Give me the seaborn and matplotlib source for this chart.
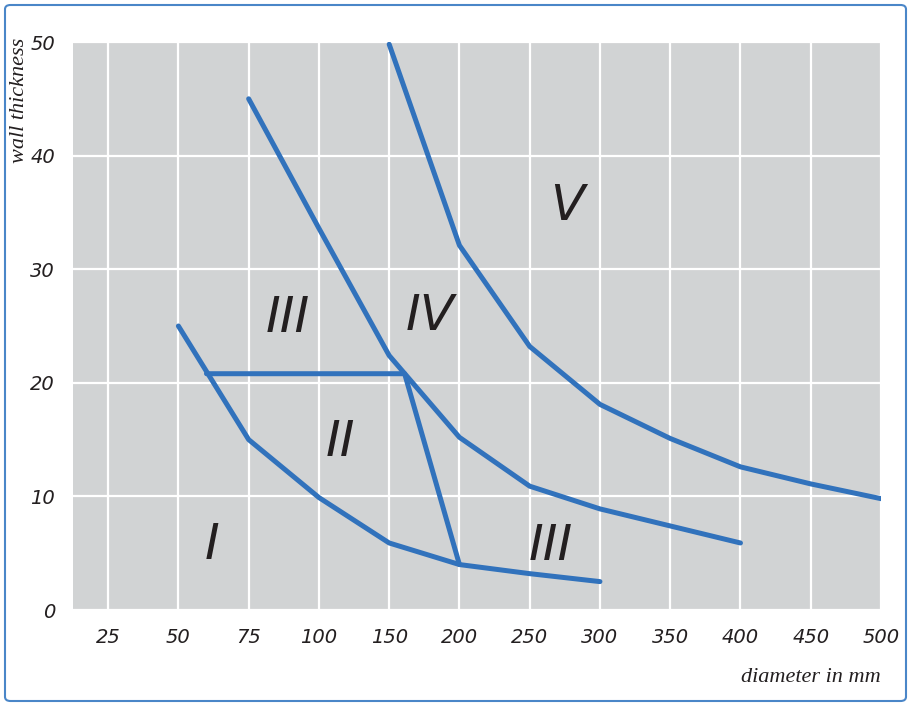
import numpy as np
import pandas as pd
import matplotlib.pyplot as plt
from matplotlib.patches import FancyBboxPatch
import seaborn as sns

# tick categories on the x axis (equally spaced, not linear)
diameters = [25, 50, 75, 100, 150, 200, 250, 300, 350, 400, 450, 500]
thickness_ticks = [0, 10, 20, 30, 40, 50]

# boundary curves (diameter in mm, wall thickness)
b1_d = [50, 75, 100, 150, 200, 250, 300]
b1_t = [25, 15, 9.9, 5.9, 4.0, 3.2, 2.5]

b2_d = [60, 161, 200]
b2_t = [20.8, 20.8, 4.0]

b3_d = [75, 100, 150, 200, 250, 300, 350, 400]
b3_t = [45, 33.6, 22.4, 15.2, 10.9, 8.9, 7.4, 5.9]

b4_d = [150, 200, 250, 300, 350, 400, 450, 500]
b4_t = [49.8, 32.1, 23.2, 18.1, 15.1, 12.6, 11.1, 9.8]

# region labels
region_names = ['I', 'II', 'III', 'IV', 'V', 'III']
region_d = [62, 115, 89, 179, 277, 265]
region_t = [5.7, 14.8, 25.7, 25.9, 35.6, 5.6]

BLUE = '#3172bc'
GREY_BG = '#d1d3d4'
INK = '#231f20'

sns.set_style('white', {'axes.facecolor': GREY_BG})
plt.rcParams['font.family'] = ['DejaVu Sans']


def pos(d):
    # map diameter to the equally spaced tick positions
    return np.interp(d, diameters, np.arange(len(diameters)))


fig = plt.figure(figsize=(9.11, 7.06), dpi=100)
ax = fig.add_axes([73 / 911, 1 - 610 / 706, (881 - 73) / 911, (610 - 42) / 706])

curves = [(b1_d, b1_t), (b2_d, b2_t), (b3_d, b3_t), (b4_d, b4_t)]
for d, t in curves:
    df = pd.DataFrame({'x': pos(d), 'y': t})
    sns.lineplot(data=df, x='x', y='y', sort=False, estimator=None,
                 color=BLUE, lw=3.6, ax=ax, zorder=3)

for name, d, t in zip(region_names, region_d, region_t):
    ax.text(pos(d), t, name, fontsize=36, style='italic', color=INK,
            ha='center', va='center', family='DejaVu Sans', zorder=4)

ax.set_xlim(-0.5, len(diameters) - 1)
ax.set_ylim(0, 50)
ax.set_xticks(np.arange(len(diameters)))
ax.set_xticklabels([str(d) for d in diameters])
ax.set_yticks(thickness_ticks)
ax.grid(True, color='white', lw=1.6)
ax.set_axisbelow(True)
for s in ax.spines.values():
    s.set_visible(False)
ax.tick_params(length=0, labelsize=14, colors=INK)
ax.tick_params(axis='y', pad=13)
ax.tick_params(axis='x', pad=13)
for lab in ax.get_xticklabels() + ax.get_yticklabels():
    lab.set_style('italic')
ax.set_xlabel('')
ax.set_ylabel('')

fig.text(20 / 911, 1 - 100 / 706, 'wall thickness', rotation=90, ha='center', va='center',
         fontsize=16, style='italic', family='Liberation Serif', color=INK)
fig.text(881 / 911, 1 - 677 / 706, 'diameter in mm', ha='right', va='center',
         fontsize=16, style='italic', family='Liberation Serif', color=INK)

border = FancyBboxPatch((5 / 911, 5 / 706), 901 / 911, 696 / 706,
                        boxstyle='round,pad=0,rounding_size=0.006',
                        transform=fig.transFigure, fill=False,
                        edgecolor='#4a86c8', lw=1.5)
fig.patches.append(border)

fig.savefig('out.png', dpi=100)
